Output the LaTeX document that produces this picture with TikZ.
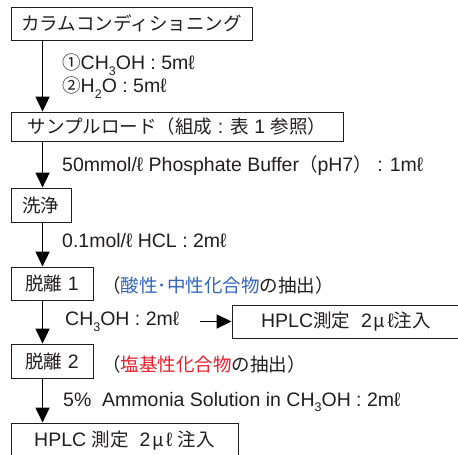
\documentclass[tikz,border=0pt]{standalone}
\usepackage{fontspec}
\setmainfont{Liberation Sans}
\newfontfamily\jp[Scale=0.95]{Noto Sans CJK JP}
\usetikzlibrary{arrows.meta}
\definecolor{jblue}{RGB}{51,102,187}
\definecolor{jred}{RGB}{232,32,42}
\definecolor{ink}{RGB}{35,30,30}
\newcommand{\subx}[1]{\raisebox{-0.3em}{\fontsize{12.5}{12.5}\selectfont #1}}
\newcommand{\lt}{ℓ}
\newcommand{\mul}{2\kern2pt{\jp μ}\kern2pt\lt}
\tikzset{
  every node/.style={font=\fontsize{19.5}{23}\selectfont, text=ink},
  box/.style={draw=ink, line width=0.9pt, inner sep=0pt, anchor=center},
  lbl/.style={anchor=west, inner sep=0pt},
  arr/.style={draw=black, line width=1.8pt, -{Triangle[width=14pt,length=15pt]}}
}
\begin{document}
\begin{tikzpicture}[x=1pt,y=-1pt]
\useasboundingbox (0,0) rectangle (458,455);
\clip (0,0) rectangle (458,455);
\node[box, minimum width=241pt, minimum height=33pt] (b1) at (131.5,23.5) {\jp カラムコンディショニング};
\node[box, minimum width=332pt, minimum height=29pt] (b2) at (177,126.5) {{\jp サンプルロード（組成} : {\jp 表} 1 {\jp 参照）}};
\node[box, minimum width=60pt, minimum height=34pt] (b3) at (41,205) {\jp 洗浄};
\node[box, minimum width=82pt, minimum height=33pt] (b4) at (52,283.5) {{\jp 脱離} 1};
\node[box, minimum width=82pt, minimum height=34pt] (b5) at (52,361) {{\jp 脱離} 2};
\node[box, minimum width=227pt, minimum height=36pt] (b6) at (124.5,441) {HPLC {\jp 測定}\ \ \mul{} {\jp 注入}};
\node[box, minimum width=228pt, minimum height=33pt] (s) at (346,321.5) {HPLC{\jp 測定}\ \ \mul{\jp 注入}};

\node[lbl] (t1) at (62,65) {{\jp ①}CH\subx{3}OH : 5m\lt};
\node[lbl] (t2) at (62,88) {{\jp ②}H\subx{2}O : 5m\lt};
\node[lbl] (t3) at (62,166) {50mmol/\lt{} Phosphate Buffer{\jp （}pH7{\jp ）} : 1m\lt};
\node[lbl] (t4) at (62,241) {0.1mol/\lt{} HCL : 2m\lt};
\node[lbl] (t5) at (102,285) {\jp （\textcolor{jblue}{酸性･中性化合物}の抽出）};
\node[lbl] (t6) at (65,322) {CH\subx{3}OH : 2m\lt};
\node[lbl] (t7) at (102,364) {\jp （\textcolor{jred}{塩基性化合物}の抽出）};
\node[lbl] (t8) at (63,402) {5\%\ \ Ammonia Solution in CH\subx{3}OH : 2m\lt};

\draw[arr] ([xshift=32pt]b1.south west) -- ([xshift=32pt]b2.north west);
\draw[arr] ([xshift=32pt]b2.south west) -- ([xshift=32pt]b3.north west);
\draw[arr] ([xshift=32pt]b3.south west) -- ([xshift=32pt]b4.north west);
\draw[arr] ([xshift=32pt]b4.south west) -- ([xshift=32pt]b5.north west);
\draw[arr] ([xshift=32pt]b5.south west) -- ([xshift=32pt]b6.north west);
\coordinate (c1) at (200,321.5);
\draw[arr] (c1) -- (s.west);
\end{tikzpicture}
\end{document}
